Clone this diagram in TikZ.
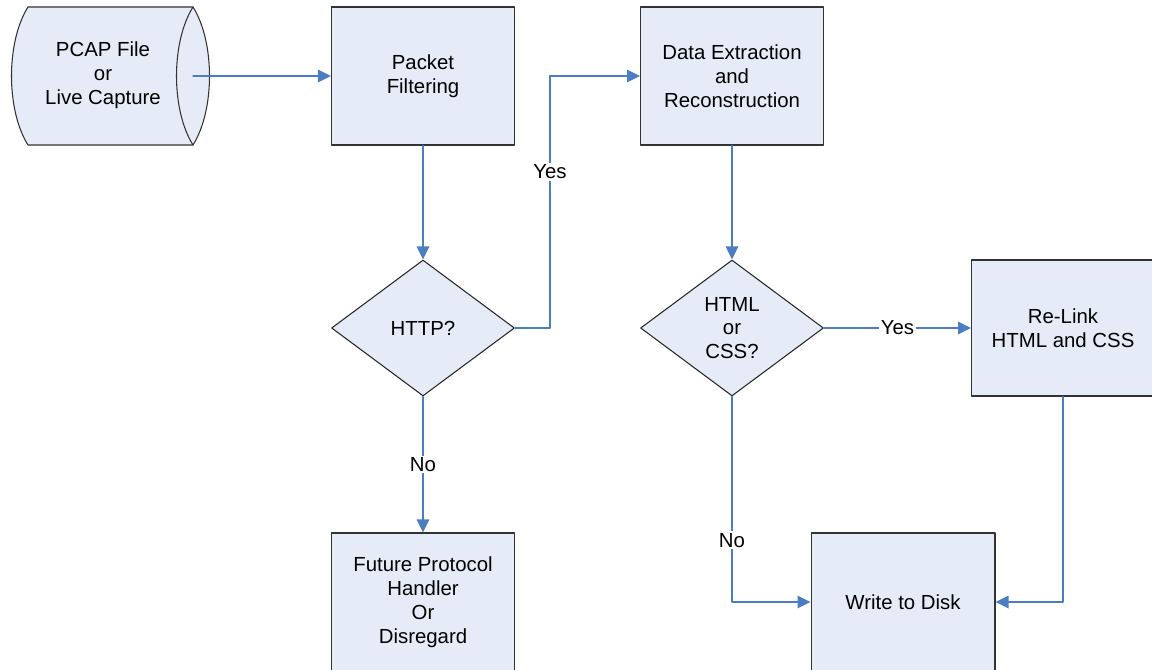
\documentclass[tikz,border=0pt]{standalone}
\usepackage{fontspec}
\setmainfont{Liberation Sans}
\usepackage{tikz}
\usetikzlibrary{arrows.meta,shapes.geometric}
\definecolor{boxfill}{RGB}{230,236,247}
\definecolor{flowblue}{RGB}{74,126,193}
\tikzset{
  txt/.style={font=\fontsize{11.6}{13.6}\selectfont,align=center},
  procbox/.style={txt,rectangle,draw=black!80,fill=boxfill,line width=0.6pt,
    minimum width=3.66cm,minimum height=2.76cm,inner sep=0pt},
  decision/.style={txt,diamond,draw=black!85,fill=boxfill,line width=0.6pt,
    minimum width=3.66cm,minimum height=2.72cm,inner sep=0pt},
  flow/.style={->,draw=flowblue,line width=0.6pt},
  lbl/.style={txt,fill=white,inner sep=1pt}
}
\begin{document}
\begin{tikzpicture}[line cap=round,line join=round,>={Triangle[length=0.26cm,width=0.25cm]},x=0.02cm,y=-0.02cm]
\clip (0,0) rectangle (1152,669);
% source (stored data)
\draw[line width=0.6pt,fill=boxfill,draw=black!80] (28,7) -- (193,7)
  .. controls (215,42) and (215,110) .. (193,145) -- (28,145)
  .. controls (6,110) and (6,42) .. (28,7) -- cycle;
\draw[line width=0.6pt,draw=black!80] (193,7) .. controls (171,42) and (171,110) .. (193,145);
\node[txt] (pcap) at (103,75) {PCAP File\\or\\Live Capture};
\coordinate (pcapout) at (193,76);
% processes and decisions
\node[procbox] (filter) at (423,76) {Packet\\Filtering};
\node[procbox] (extract) at (732,76) {Data Extraction\\and\\Reconstruction};
\node[decision] (http) at (423,328) {HTTP?};
\node[decision] (html) at (732,328) {HTML\\or\\CSS?};
\node[procbox,minimum height=2.72cm] (relink) at (1063,328) {Re-Link\\HTML and CSS};
\node[procbox] (future) at (423,602) {Future Protocol\\Handler\\Or\\Disregard};
\node[procbox,minimum width=3.68cm] (disk) at (903,602) {Write to Disk};
% connectors
\draw[flow] (pcapout) -- (filter.west);
\draw[flow] (filter.south) -- (http.north);
\draw[flow] (http.east) -- ++(35,0) |- node[lbl,pos=0.31]{Yes} (extract.west);
\draw[flow] (http.south) -- node[lbl]{No} (future.north);
\draw[flow] (extract.south) -- (html.north);
\draw[flow] (html.east) -- node[lbl]{Yes} (relink.west);
\draw[flow] (html.south) |- node[lbl,pos=0.35]{No} (disk.west);
\draw[flow] (relink.south) |- (disk.east);
\end{tikzpicture}
\end{document}
